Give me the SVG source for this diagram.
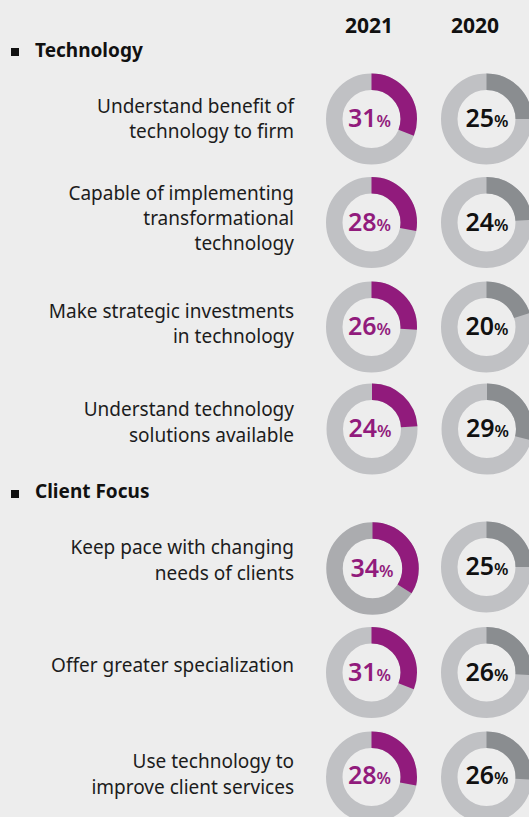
<svg xmlns="http://www.w3.org/2000/svg" width="529" height="817" viewBox="0 0 529 817">
<style>
.lbl{font-family:"Noto Sans","Open Sans",sans-serif;font-size:19px;fill:#1c1c1c;text-anchor:end}
.hdr{font-family:"Noto Sans","Open Sans",sans-serif;font-size:19px;font-weight:700;fill:#111}
.yr{font-family:"Noto Sans","Open Sans",sans-serif;font-size:21px;font-weight:700;fill:#111;text-anchor:middle}
.ring{fill:none;stroke:#c0c1c4;stroke-width:16.5}
.ring.dk{stroke:#abacaf}
.seg{fill:none;stroke-width:16.5}
.s21{stroke:#911b7c}
.s20{stroke:#8a8d90}
.pct{font-family:"Noto Sans","Open Sans",sans-serif;font-size:25px;font-weight:600;text-anchor:middle}
.p21{fill:#911b7c}
.p20{fill:#111}
.pc{font-size:16.5px}
</style>
<rect width="529" height="817" fill="#ededed"/>
<g id="headers">
<text class="yr" x="369" y="33">2021</text>
<text class="yr" x="475" y="33">2020</text>
</g>
<g id="sec-technology">
<rect x="11" y="48" width="8" height="8" fill="#111"/>
<text class="hdr" x="35" y="57">Technology</text>
</g>
<g id="sec-client">
<rect x="11" y="490" width="8" height="8" fill="#111"/>
<text class="hdr" x="35" y="498">Client Focus</text>
</g>

<g id="row1">
<text class="lbl" x="294" y="113">Understand benefit of</text>
<text class="lbl" x="294" y="138">technology to firm</text>
<circle class="ring" cx="371.5" cy="119" r="37.25"/>
<circle class="seg s21" cx="371.5" cy="119" r="37.25" pathLength="100" stroke-dasharray="31 100" transform="rotate(-90 371.5 119)"/>
<text class="pct p21" x="369.5" y="127">31<tspan class="pc">%</tspan></text>
<circle class="ring" cx="486.5" cy="119" r="37.25"/>
<circle class="seg s20" cx="486.5" cy="119" r="37.25" pathLength="100" stroke-dasharray="25 100" transform="rotate(-90 486.5 119)"/>
<text class="pct p20" x="487" y="127">25<tspan class="pc">%</tspan></text>
</g>

<g id="row2">
<text class="lbl" x="294" y="200">Capable of implementing</text>
<text class="lbl" x="294" y="225">transformational</text>
<text class="lbl" x="294" y="250">technology</text>
<circle class="ring" cx="371.5" cy="222.5" r="37.25"/>
<circle class="seg s21" cx="371.5" cy="222.5" r="37.25" pathLength="100" stroke-dasharray="28 100" transform="rotate(-90 371.5 222.5)"/>
<text class="pct p21" x="369.5" y="230.5">28<tspan class="pc">%</tspan></text>
<circle class="ring" cx="486.5" cy="222.5" r="37.25"/>
<circle class="seg s20" cx="486.5" cy="222.5" r="37.25" pathLength="100" stroke-dasharray="24 100" transform="rotate(-90 486.5 222.5)"/>
<text class="pct p20" x="487" y="230.5">24<tspan class="pc">%</tspan></text>
</g>

<g id="row3">
<text class="lbl" x="294" y="318">Make strategic investments</text>
<text class="lbl" x="294" y="343">in technology</text>
<circle class="ring" cx="371.5" cy="327" r="37.25"/>
<circle class="seg s21" cx="371.5" cy="327" r="37.25" pathLength="100" stroke-dasharray="26 100" transform="rotate(-90 371.5 327)"/>
<text class="pct p21" x="369.5" y="335">26<tspan class="pc">%</tspan></text>
<circle class="ring" cx="486.5" cy="327" r="37.25"/>
<circle class="seg s20" cx="486.5" cy="327" r="37.25" pathLength="100" stroke-dasharray="20 100" transform="rotate(-90 486.5 327)"/>
<text class="pct p20" x="487" y="335">20<tspan class="pc">%</tspan></text>
</g>

<g id="row4">
<text class="lbl" x="294" y="416">Understand technology</text>
<text class="lbl" x="294" y="442">solutions available</text>
<circle class="ring" cx="372" cy="429" r="37.25"/>
<circle class="seg s21" cx="372" cy="429" r="37.25" pathLength="100" stroke-dasharray="24 100" transform="rotate(-90 372 429)"/>
<text class="pct p21" x="370" y="437">24<tspan class="pc">%</tspan></text>
<circle class="ring" cx="487" cy="429" r="37.25"/>
<circle class="seg s20" cx="487" cy="429" r="37.25" pathLength="100" stroke-dasharray="29 100" transform="rotate(-90 487 429)"/>
<text class="pct p20" x="487.5" y="437">29<tspan class="pc">%</tspan></text>
</g>

<g id="row5">
<text class="lbl" x="294" y="554">Keep pace with changing</text>
<text class="lbl" x="294" y="580">needs of clients</text>
<circle class="ring dk" cx="372.5" cy="568.5" r="38"/>
<circle class="seg s21" cx="372.5" cy="568.5" r="38" pathLength="100" stroke-dasharray="34 100" transform="rotate(-90 372.5 568.5)"/>
<text class="pct p21" x="372" y="576.5">34<tspan class="pc">%</tspan></text>
<circle class="ring" cx="486.5" cy="567" r="37.25"/>
<circle class="seg s20" cx="486.5" cy="567" r="37.25" pathLength="100" stroke-dasharray="25 100" transform="rotate(-90 486.5 567)"/>
<text class="pct p20" x="487" y="575">25<tspan class="pc">%</tspan></text>
</g>

<g id="row6">
<text class="lbl" x="294" y="672">Offer greater specialization</text>
<circle class="ring" cx="371.5" cy="672.5" r="37.25"/>
<circle class="seg s21" cx="371.5" cy="672.5" r="37.25" pathLength="100" stroke-dasharray="31 100" transform="rotate(-90 371.5 672.5)"/>
<text class="pct p21" x="369.5" y="680.5">31<tspan class="pc">%</tspan></text>
<circle class="ring" cx="486.5" cy="672.5" r="37.25"/>
<circle class="seg s20" cx="486.5" cy="672.5" r="37.25" pathLength="100" stroke-dasharray="26 100" transform="rotate(-90 486.5 672.5)"/>
<text class="pct p20" x="487" y="680.5">26<tspan class="pc">%</tspan></text>
</g>

<g id="row7">
<text class="lbl" x="294" y="768">Use technology to</text>
<text class="lbl" x="294" y="794">improve client services</text>
<circle class="ring" cx="371.5" cy="777" r="37.25"/>
<circle class="seg s21" cx="371.5" cy="777" r="37.25" pathLength="100" stroke-dasharray="28 100" transform="rotate(-90 371.5 777)"/>
<text class="pct p21" x="369.5" y="784">28<tspan class="pc">%</tspan></text>
<circle class="ring" cx="486.5" cy="777" r="37.25"/>
<circle class="seg s20" cx="486.5" cy="777" r="37.25" pathLength="100" stroke-dasharray="26 100" transform="rotate(-90 486.5 777)"/>
<text class="pct p20" x="487" y="784">26<tspan class="pc">%</tspan></text>
</g>
</svg>
